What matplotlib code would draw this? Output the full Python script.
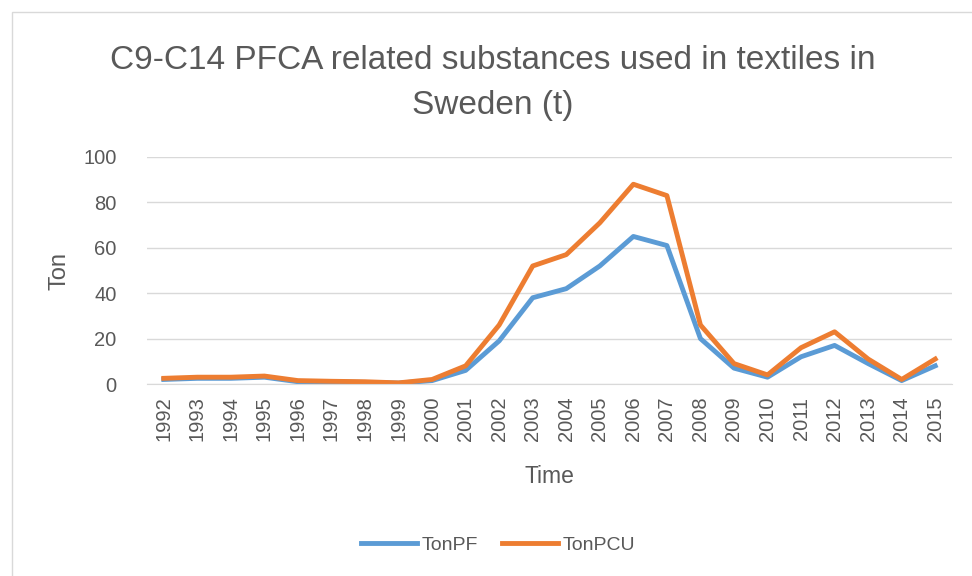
import matplotlib.pyplot as plt
from matplotlib.patches import Rectangle

plt.rcParams['font.family'] = ['Liberation Sans', 'DejaVu Sans']

years = [str(y) for y in range(1992, 2016)]
ton_pf = [2, 2.5, 2.5, 3, 1, 1, 0.7, 0.4, 1.5, 6, 19, 38, 42, 52, 65, 61, 20, 7, 3, 12, 17, 9, 1.5, 8]
ton_pcu = [2.5, 3, 3, 3.5, 1.5, 1.2, 1, 0.5, 2, 8, 26, 52, 57, 71, 88, 83, 26, 9, 4, 16, 23, 11, 2, 11]

grey = '#595959'

fig = plt.figure(figsize=(9.72, 5.76), dpi=100)
fig.patches.append(Rectangle((12 / 972, -0.1), 1.2, (576 - 12) / 576 + 0.1,
                             transform=fig.transFigure, fill=False,
                             edgecolor='#d9d9d9', linewidth=1))
ax = fig.add_axes([147 / 972, 1 - 384 / 576, (952 - 147) / 972, (384 - 157) / 576])

x = range(len(years))
ax.plot(x, ton_pf, color='#5B9BD5', linewidth=3.5, label='TonPF', solid_joinstyle='round')
ax.plot(x, ton_pcu, color='#ED7D31', linewidth=3.5, label='TonPCU', solid_joinstyle='round')

ax.set_xlim(-0.5, len(years) - 0.5)
ax.set_ylim(0, 100)
ax.set_yticks(range(0, 101, 20))
ax.set_xticks(list(x))
ax.set_xticklabels(years, rotation=90)
ax.tick_params(axis='both', length=0, labelsize=14.5, colors=grey, pad=9)
ax.tick_params(axis='y', pad=22)
ax.grid(axis='y', color='#d9d9d9', linewidth=1)
ax.set_axisbelow(True)
for s in ['top', 'right', 'left']:
    ax.spines[s].set_visible(False)
ax.spines['bottom'].set_color('#d9d9d9')

ax.set_xlabel('Time', fontsize=16.5, color=grey, labelpad=17)
ax.set_ylabel('Ton', fontsize=17, color=grey, labelpad=9)
fig.suptitle('C9-C14 PFCA related substances used in textiles in\nSweden (t)',
             x=493 / 972, y=0.922, fontsize=24, color=grey, linespacing=1.57)

fig.legend(loc='center', bbox_to_anchor=(498 / 972, 1 - 545 / 576), ncol=2, frameon=False,
           fontsize=14, labelcolor=grey, handlelength=2.9, handletextpad=0.25,
           columnspacing=1.2)

fig.savefig('out.png', dpi=100)
